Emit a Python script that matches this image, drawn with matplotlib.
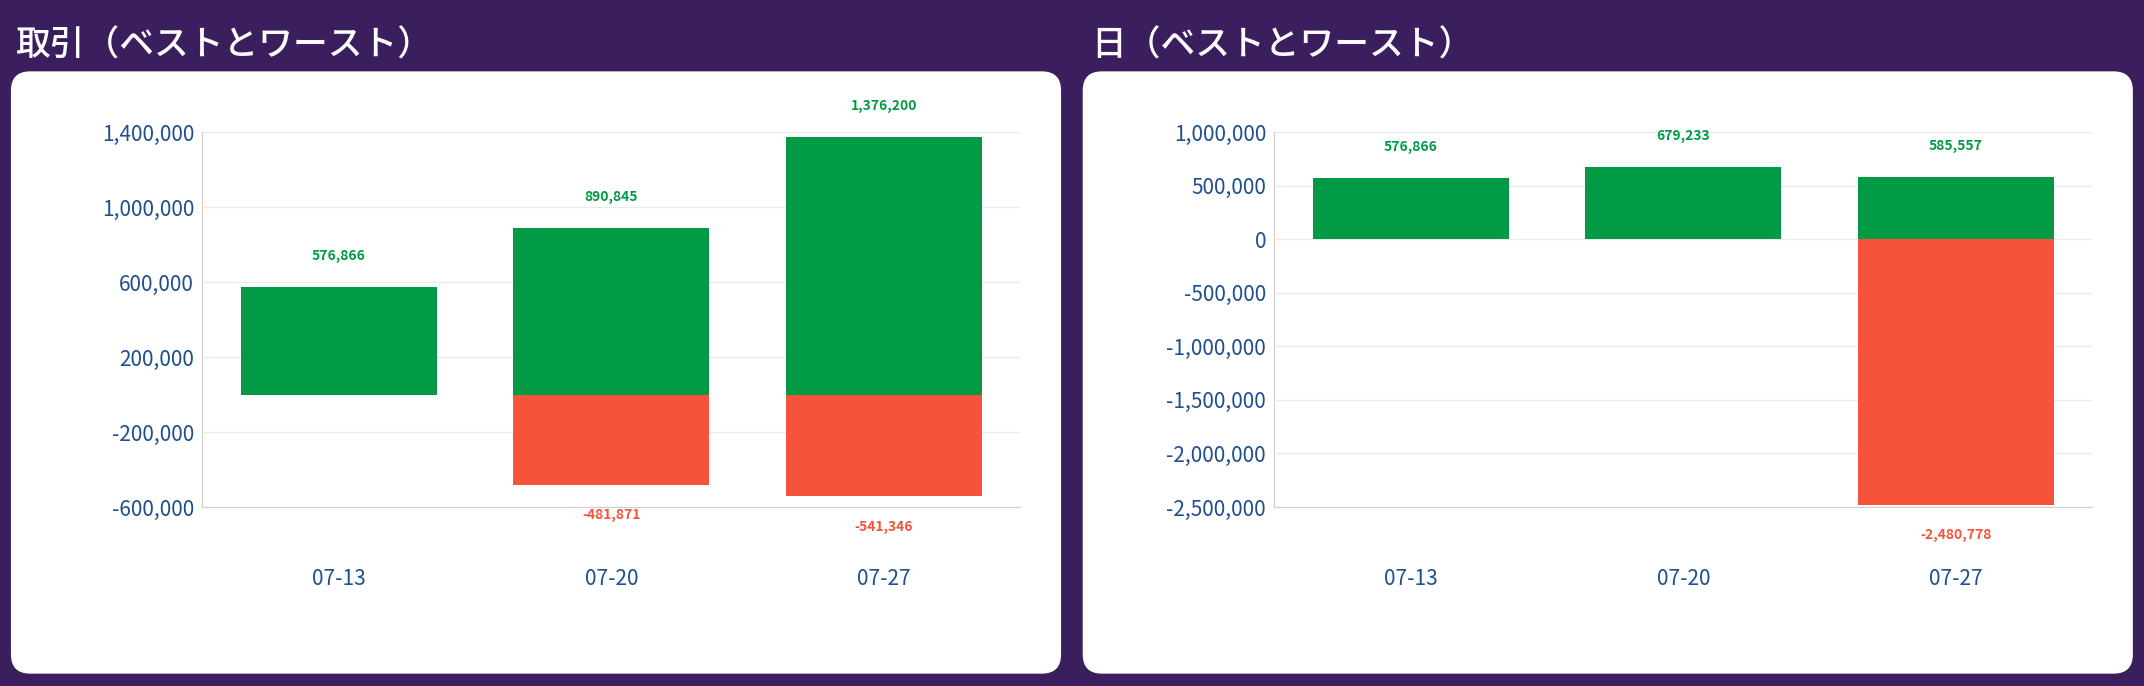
import matplotlib
matplotlib.use("Agg")
import matplotlib.pyplot as plt
from matplotlib.patches import FancyBboxPatch

plt.rcParams['font.family'] = ['Noto Sans CJK JP', 'DejaVu Sans']

categories = ["07-13", "07-20", "07-27"]
trade_best = [576866, 890845, 1376200]
trade_worst = [0, -481871, -541346]
day_best = [576866, 679233, 585557]
day_worst = [0, 0, -2480778]
titles = ["取引（ベストとワースト）", "日（ベストとワースト）"]

GREEN = "#009a44"
RED = "#f5533a"
BLUE = "#1f4f8f"
BG = "#3b1e5e"

fig = plt.figure(figsize=(21.44, 6.86), dpi=100)
fig.patch.set_facecolor(BG)

for px in [0.0051, 0.505]:
    fig.patches.append(FancyBboxPatch((px, 0.018), 0.4898, 0.878,
                                      boxstyle="round,pad=0,rounding_size=0.009",
                                      transform=fig.transFigure, facecolor="white",
                                      edgecolor="none", mutation_aspect=3.1, zorder=-10))

def draw(ax, best, worst, ylim, ticks, title, tx):
    ax.set_zorder(5)
    ax.patch.set_alpha(0)
    x = range(len(categories))
    ax.bar(x, best, width=0.72, color=GREEN, zorder=3)
    ax.bar(x, worst, width=0.72, color=RED, zorder=3)
    for i in x:
        ax.annotate(f"{best[i]:,}", (i, best[i]), xytext=(0, 22), textcoords="offset points",
                    ha="center", va="center", color=GREEN, fontsize=10, fontweight="bold")
        if worst[i] != 0:
            ax.annotate(f"{worst[i]:,}", (i, worst[i]), xytext=(0, -22), textcoords="offset points",
                        ha="center", va="center", color=RED, fontsize=10, fontweight="bold")
    ax.set_xlim(-0.5, 2.5)
    ax.set_ylim(*ylim)
    ax.set_yticks(ticks)
    ax.set_yticklabels([f"{t:,}" for t in ticks])
    ax.set_xticks(list(x))
    ax.set_xticklabels(categories)
    ax.tick_params(axis="y", length=0, labelsize=15, labelcolor=BLUE, pad=6)
    ax.tick_params(axis="x", length=0, labelsize=15, labelcolor=BLUE, pad=44)
    ax.grid(axis="y", color="#ebebeb", linewidth=1, zorder=0)
    for s in ["top", "right"]:
        ax.spines[s].set_visible(False)
    for s in ["left", "bottom"]:
        ax.spines[s].set_color("#d0d0d0")
    fig.text(tx, 0.934, title, color="white", fontsize=25, fontweight="medium",
             va="center", ha="left")

ax1 = fig.add_axes([0.0944, 0.261, 0.3814, 0.546])
draw(ax1, trade_best, trade_worst, (-600000, 1400000),
     list(range(-600000, 1400001, 400000)), titles[0], 0.007)
ax2 = fig.add_axes([0.5944, 0.261, 0.3814, 0.546])
draw(ax2, day_best, day_worst, (-2500000, 1000000),
     list(range(-2500000, 1000001, 500000)), titles[1], 0.509)

fig.savefig("out.png", dpi=100, facecolor=BG)
